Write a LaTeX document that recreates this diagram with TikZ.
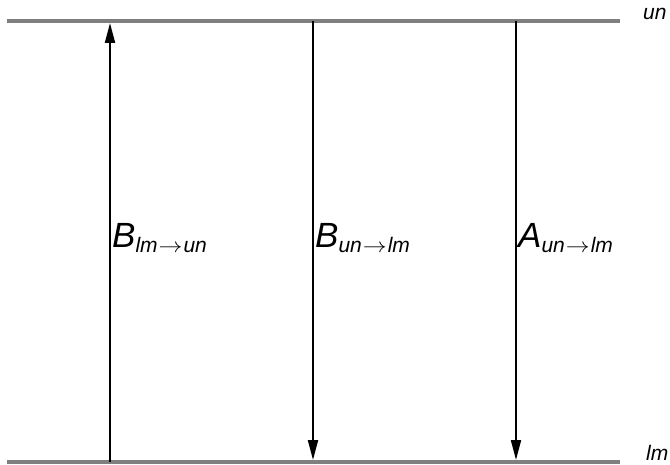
\documentclass[tikz,border=0pt]{standalone}
\usepackage{fontspec}
\setmainfont{Liberation Sans}
\usetikzlibrary{arrows.meta}
\definecolor{levelgray}{HTML}{7F7F7F}
\tikzset{
  level/.style={draw=levelgray, line width=4pt},
  trans/.style={draw=black, line width=2pt, -{Triangle[length=20pt,width=10pt]}, shorten >=2pt},
  biglab/.style={inner sep=0pt, anchor=base west, font=\fontsize{35}{35}\selectfont\itshape},
  levlab/.style={inner sep=0pt, anchor=base west, font=\fontsize{21}{21}\selectfont\itshape}
}
\newcommand{\arr}{\kern1pt\scalebox{1.15}[1]{$\rightarrow$}\kern1pt}
\newcommand{\subtxt}[1]{\raisebox{-5pt}{\fontsize{21}{21}\selectfont\itshape #1}}
\begin{document}
\begin{tikzpicture}[x=1pt,y=-1pt]
\useasboundingbox (0,0) rectangle (670,465);
% level end points
\coordinate (ul) at (7,21);
\coordinate (ur) at (620,21);
\coordinate (ll) at (7,462);
\coordinate (lr) at (620,462);
% transition end points
\coordinate (t1) at (110,21);
\coordinate (b1) at (110,462);
\coordinate (t2) at (313,21);
\coordinate (b2) at (313,462);
\coordinate (t3) at (516,21);
\coordinate (b3) at (516,462);
% levels
\draw[level] (ul) -- (ur);
\draw[level] (ll) -- (lr);
\node[levlab] (un) at (643,20) {un};
\node[levlab] (lm) at (646,460) {lm};
% transitions
\draw[trans] (b1) -- (t1);
\draw[trans] (t2) -- (b2);
\draw[trans] (t3) -- (b3);
% labels
\node[biglab] (l1) at (112,248) {B\subtxt{lm\arr un}};
\node[biglab] (l2) at (315,248) {B\subtxt{un\arr lm}};
\node[biglab] (l3) at (518,248) {A\subtxt{un\arr lm}};
\end{tikzpicture}
\end{document}
